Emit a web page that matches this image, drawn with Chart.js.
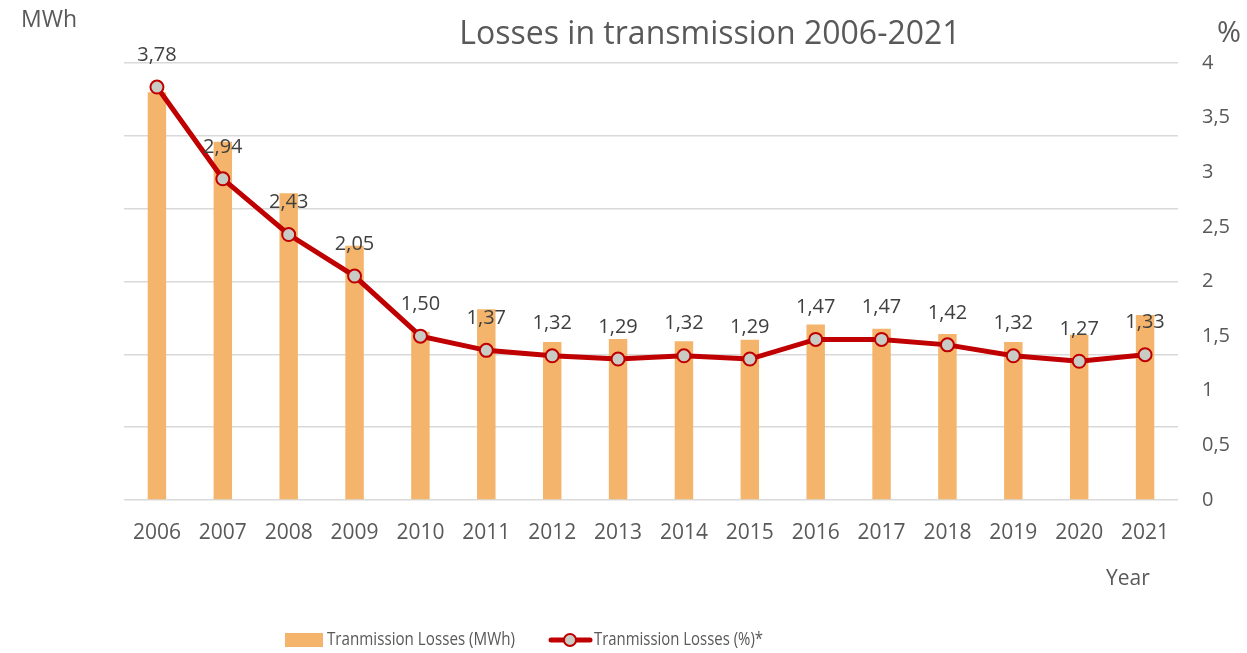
<!DOCTYPE html>
<html>
<head>
<meta charset="utf-8">
<script src="https://cdn.jsdelivr.net/npm/chart.js@4.4.1/dist/chart.umd.min.js"></script>
<style>
  html, body { margin: 0; padding: 0; background: #fff; }
  #wrap { width: 1247px; height: 653px; }
</style>
</head>
<body>
<div id="wrap"><canvas id="c" width="1247" height="653"></canvas></div>
<script>
const years = ['2006', '2007', '2008', '2009', '2010', '2011', '2012', '2013',
               '2014', '2015', '2016', '2017', '2018', '2019', '2020', '2021'];
// bar heights read against the (unlabelled) left axis gridlines
const lossesMWh = [560, 492, 421, 349, 231, 262, 217, 221, 218, 220, 241, 235, 228, 217, 227, 254];
const lossesPct = [3.78, 2.94, 2.43, 2.05, 1.50, 1.37, 1.32, 1.29, 1.32, 1.29, 1.47, 1.47, 1.42, 1.32, 1.27, 1.33];
const pctTicks = [0, 0.5, 1, 1.5, 2, 2.5, 3, 3.5, 4];

const FONT = '"Open Sans", sans-serif';
const TEXT = '#595959';
const BAR = '#F4B46B';
const LINE = '#C00000';

function comma(v, d) {
    return (d == null ? String(v) : v.toFixed(d)).replace('.', ',');
}

const extras = {
    id: 'extras',
    afterDatasetsDraw(chart) {
        const ctx = chart.ctx;
        const meta = chart.getDatasetMeta(1);
        ctx.save();
        ctx.fillStyle = '#404040';
        ctx.font = '20px ' + FONT;
        ctx.textAlign = 'center';
        ctx.textBaseline = 'middle';
        meta.data.forEach((pt, i) => {
            ctx.fillText(comma(lossesPct[i], 2), pt.x, pt.y - 32);
        });
        ctx.restore();
    },
    afterDraw(chart) {
        const ctx = chart.ctx;
        ctx.save();
        ctx.fillStyle = TEXT;
        ctx.textBaseline = 'middle';
        ctx.textAlign = 'center';
        ctx.font = '32px ' + FONT;
        ctx.fillText('Losses in transmission 2006-2021', 710, 35, 503);
        ctx.textAlign = 'left';
        ctx.font = '23px ' + FONT;
        ctx.fillText('MWh', 21, 20);
        ctx.font = '21px ' + FONT;
        ctx.fillText('Year', 1106, 579);
        ctx.font = '29px ' + FONT;
        ctx.fillText('%', 1217, 34);

        // legend
        ctx.font = '18px ' + FONT;
        ctx.fillStyle = BAR;
        ctx.fillRect(285, 633, 38, 14);
        ctx.fillStyle = TEXT;
        ctx.fillText('Tranmission Losses (MWh)', 327, 640, 188);
        ctx.strokeStyle = LINE;
        ctx.lineWidth = 5;
        ctx.lineCap = 'round';
        ctx.beginPath();
        ctx.moveTo(551, 640);
        ctx.lineTo(590, 640);
        ctx.stroke();
        ctx.beginPath();
        ctx.arc(570, 640, 6, 0, Math.PI * 2);
        ctx.fillStyle = '#C8CCC4';
        ctx.fill();
        ctx.lineWidth = 2;
        ctx.stroke();
        ctx.fillStyle = TEXT;
        ctx.fillText('Tranmission Losses (%)*', 594, 640, 169);
        ctx.restore();
    }
};

new Chart(document.getElementById('c'), {
    data: {
        labels: years,
        datasets: [
            {
                type: 'bar',
                label: 'Tranmission Losses (MWh)',
                data: lossesMWh,
                backgroundColor: BAR,
                yAxisID: 'y',
                barPercentage: 0.56,
                categoryPercentage: 0.5,
                order: 2
            },
            {
                type: 'line',
                label: 'Tranmission Losses (%)*',
                data: lossesPct,
                borderColor: LINE,
                borderWidth: 5,
                pointRadius: 6.5,
                pointBorderWidth: 2,
                pointBackgroundColor: '#C8CCC4',
                pointBorderColor: LINE,
                tension: 0,
                yAxisID: 'y1',
                order: 1
            }
        ]
    },
    options: {
        responsive: false,
        animation: false,
        layout: { padding: { top: 63, left: 0, right: 0, bottom: 0 } },
        plugins: {
            legend: { display: false },
            tooltip: { enabled: false },
            title: { display: false }
        },
        scales: {
            x: {
                grid: { display: false },
                border: { display: false },
                ticks: { color: TEXT, font: { family: FONT, size: 21 }, padding: 12 },
                afterFit(s) { s.height = 153; }
            },
            y: {
                position: 'left',
                min: 0,
                max: 600,
                ticks: { display: false, stepSize: 100 },
                grid: { color: '#D9D9D9', lineWidth: 1.5, drawTicks: false },
                border: { display: false },
                afterFit(s) { s.width = 124; }
            },
            y1: {
                position: 'right',
                min: 0,
                max: 4,
                afterBuildTicks(s) { s.ticks = pctTicks.map(v => ({ value: v })); },
                ticks: {
                    color: TEXT,
                    font: { family: FONT, size: 20 },
                    padding: 24,
                    callback: v => comma(v)
                },
                grid: { display: false, drawTicks: false },
                border: { display: false },
                afterFit(s) { s.width = 69; }
            }
        }
    },
    plugins: [extras]
});
</script>
</body>
</html>
